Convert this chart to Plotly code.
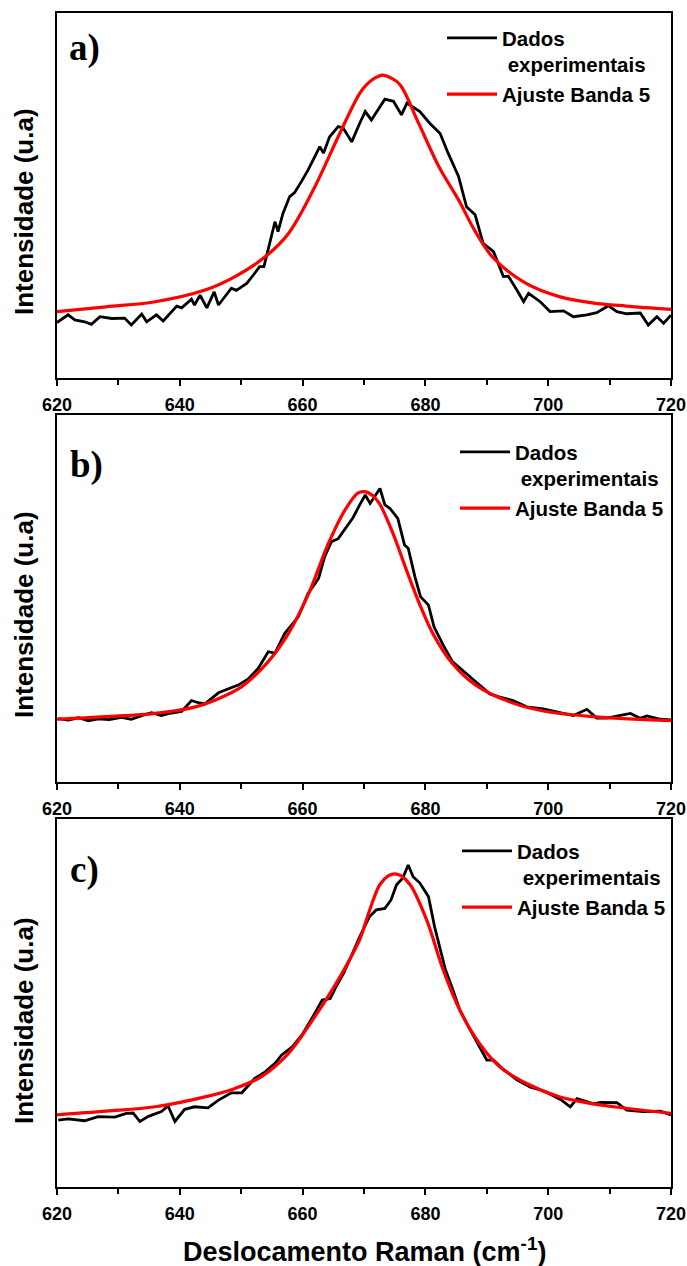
import plotly.graph_objects as go

# ---------------- data ----------------
tick_vals = [620, 640, 660, 680, 700, 720]
panel_labels = ["a)", "b)", "c)"]
name_data = "Dados<br>\u00a0experimentais"
name_fit = "Ajuste Banda 5"

a_data_x = [620.0, 621.8, 622.9, 624.5, 625.6, 627.0, 628.9, 631.0, 632.1, 633.8, 634.6, 636.2, 637.3,
            639.5, 640.3, 641.9, 642.4, 643.3, 644.4, 645.6, 646.3, 648.4, 649.2, 650.9, 652.2, 653.0,
            653.7, 654.4, 655.5, 656.0, 656.8, 657.9, 658.7, 659.8, 660.9, 662.8, 663.4, 664.4, 665.8,
            666.6, 668.0, 669.3, 670.2, 671.2, 673.4, 674.8, 676.1, 677.0, 679.1, 680.7, 682.4, 683.7,
            685.4, 686.7, 688.1, 689.4, 691.1, 692.7, 693.5, 694.9, 696.0, 696.8, 698.7, 700.3, 702.5,
            704.1, 706.3, 707.9, 709.8, 711.2, 712.8, 715.0, 716.3, 717.7, 718.8, 720.0]
a_data_y = [0.152, 0.173, 0.159, 0.154, 0.147, 0.168, 0.163, 0.164, 0.145, 0.175, 0.154, 0.173, 0.156,
            0.197, 0.192, 0.216, 0.200, 0.227, 0.192, 0.236, 0.200, 0.246, 0.240, 0.259, 0.287, 0.305,
            0.305, 0.351, 0.428, 0.401, 0.451, 0.497, 0.508, 0.538, 0.570, 0.634, 0.616, 0.661, 0.689,
            0.685, 0.647, 0.698, 0.730, 0.707, 0.764, 0.758, 0.721, 0.753, 0.730, 0.698, 0.670, 0.616,
            0.552, 0.469, 0.447, 0.369, 0.346, 0.278, 0.279, 0.241, 0.209, 0.232, 0.209, 0.182, 0.184,
            0.168, 0.173, 0.179, 0.198, 0.182, 0.176, 0.178, 0.145, 0.168, 0.150, 0.172]
a_fit_x = [620, 628, 636, 644.1, 649, 653.9, 657.7, 662, 665.8, 669.3, 670.5, 671.8, 673, 674.4, 675.9,
           678.9, 682.2, 685.4, 688, 690.9, 696.4, 701.8, 707.2, 712.7, 720]
a_fit_y = [0.182, 0.195, 0.209, 0.241, 0.278, 0.332, 0.396, 0.524, 0.661, 0.780, 0.805, 0.822, 0.830,
           0.822, 0.803, 0.698, 0.579, 0.488, 0.405, 0.332, 0.259, 0.223, 0.206, 0.197, 0.188]

b_data_x = [620.2, 621.8, 623.5, 625.1, 626.7, 628.5, 630.5, 632.1, 633.8, 635.4, 637.0, 638.6, 640.3,
            641.9, 643.0, 644.1, 646.3, 647.9, 649.5, 651.1, 652.8, 654.4, 655.5, 657.1, 659.3, 660.9,
            662.6, 663.6, 664.7, 665.8, 667.4, 668.2, 669.3, 670.2, 671.0, 672.6, 673.4, 674.2, 675.5,
            676.6, 677.2, 678.3, 679.2, 680.5, 681.4, 682.9, 684.4, 686.2, 688.2, 690.5, 692.0, 694.3,
            696.5, 699.2, 701.9, 704.1, 706.3, 707.9, 709.5, 711.2, 713.4, 715.0, 716.1, 718.3, 720.0]
b_data_y = [0.173, 0.169, 0.175, 0.167, 0.172, 0.170, 0.176, 0.171, 0.181, 0.189, 0.181, 0.188, 0.192,
            0.222, 0.216, 0.213, 0.243, 0.253, 0.264, 0.280, 0.310, 0.355, 0.351, 0.405, 0.450, 0.514,
            0.555, 0.614, 0.655, 0.663, 0.700, 0.720, 0.755, 0.782, 0.759, 0.800, 0.755, 0.746, 0.718,
            0.646, 0.637, 0.559, 0.505, 0.482, 0.423, 0.373, 0.328, 0.301, 0.273, 0.240, 0.232, 0.222,
            0.205, 0.199, 0.189, 0.181, 0.198, 0.174, 0.174, 0.180, 0.187, 0.174, 0.180, 0.171, 0.169]
b_fit_x = [620, 628, 636, 642.4, 645.7, 650.1, 654.4, 657.7, 661, 664.2, 666.9, 669, 670.1, 671.3,
           672.5, 674.7, 676.9, 679, 681.2, 684.4, 688.2, 693.6, 699, 707.2, 720]
b_fit_y = [0.171, 0.178, 0.187, 0.204, 0.223, 0.260, 0.328, 0.405, 0.514, 0.650, 0.741, 0.787, 0.791,
           0.782, 0.759, 0.678, 0.578, 0.487, 0.405, 0.323, 0.264, 0.219, 0.194, 0.178, 0.167]

c_data_x = [620.2, 621.8, 624.5, 626.7, 629.4, 631.3, 632.4, 633.5, 634.9, 637.0, 638.1, 639.2, 640.8,
            642.4, 644.6, 646.3, 648.4, 650.1, 652.2, 653.9, 655.5, 656.6, 658.3, 659.9, 661.5, 663.2,
            664.5, 665.6, 666.7, 668.0, 669.3, 670.9, 672.0, 673.4, 674.4, 675.3, 676.3, 677.2, 678.0,
            679.1, 680.5, 681.5, 683.2, 684.3, 685.6, 687.0, 688.4, 690.0, 691.1, 692.8, 694.9, 697.1,
            699.3, 702.0, 703.6, 704.7, 707.4, 708.5, 711.2, 712.8, 715.5, 718.3, 720.0]
c_data_y = [0.182, 0.185, 0.180, 0.191, 0.190, 0.200, 0.201, 0.178, 0.192, 0.205, 0.220, 0.178, 0.211,
            0.218, 0.215, 0.236, 0.256, 0.256, 0.295, 0.313, 0.336, 0.359, 0.381, 0.413, 0.458, 0.508,
            0.512, 0.549, 0.581, 0.630, 0.680, 0.735, 0.753, 0.757, 0.780, 0.821, 0.839, 0.875, 0.843,
            0.826, 0.789, 0.707, 0.594, 0.544, 0.481, 0.436, 0.395, 0.345, 0.345, 0.318, 0.291, 0.271,
            0.261, 0.238, 0.218, 0.240, 0.226, 0.230, 0.229, 0.209, 0.205, 0.206, 0.196]
c_fit_x = [620, 628, 636, 644.1, 649, 653.3, 657.7, 662, 665.8, 669.3, 670.2, 671.5, 672.6, 674, 675,
           676, 677.5, 680.2, 682.9, 685.6, 688.8, 692.1, 696.4, 701.8, 707.3, 712.7, 720]
c_fit_y = [0.196, 0.206, 0.218, 0.245, 0.268, 0.300, 0.363, 0.463, 0.563, 0.672, 0.716, 0.780, 0.822,
           0.846, 0.851, 0.846, 0.822, 0.726, 0.590, 0.481, 0.390, 0.327, 0.282, 0.245, 0.226, 0.214,
           0.200]

panels = [(a_data_x, a_data_y, a_fit_x, a_fit_y),
          (b_data_x, b_data_y, b_fit_x, b_fit_y),
          (c_data_x, c_data_y, c_fit_x, c_fit_y)]

# ---------------- figure ----------------
W, H = 687, 1266
ML, MR, MT, MB = 57, 16, 13, 79
PH = H - MT - MB
PW = W - ML - MR


def py(p):  # pixel y -> paper y
    return (H - MB - p) / PH


def px(p):  # pixel x -> paper x
    return (p - ML) / PW


panel_px = [(13, 378), (415, 782), (819, 1187)]
label_px = [(84, 48), (86, 465), (84, 870)]
ytitle_px = [212, 615, 1021]
legend_px = [(442, 18), (455, 432), (457, 831)]

FONT = "Liberation Sans, Arial, sans-serif"
fig = go.Figure()
layout = dict(width=W, height=H, margin=dict(l=ML, r=MR, t=MT, b=MB, autoexpand=False),
              plot_bgcolor="white", paper_bgcolor="white", showlegend=True,
              font=dict(family=FONT, color="black"))
annotations = []
for i, (dx, dy, fx, fy) in enumerate(panels):
    n = "" if i == 0 else str(i + 1)
    lg = "legend" if i == 0 else "legend" + str(i + 1)
    fig.add_trace(go.Scatter(x=dx, y=dy, mode="lines", name=name_data,
                             line=dict(color="black", width=2.8), xaxis="x" + n, yaxis="y" + n,
                             legend=lg))
    fig.add_trace(go.Scatter(x=fx, y=fy, mode="lines", name=name_fit,
                             line=dict(color="#ff0000", width=3.2, shape="spline"),
                             xaxis="x" + n, yaxis="y" + n, legend=lg))
    top, bot = panel_px[i]
    layout["xaxis" + n] = dict(domain=[0, 1], anchor="y" + n, range=[620, 720], automargin=False,
                               showline=True, mirror=True, linecolor="black", linewidth=2,
                               ticks="outside", ticklen=6, tickwidth=2, tickcolor="black",
                               tickmode="array", tickvals=tick_vals,
                               ticktext=[str(v) for v in tick_vals], ticklabelstandoff=3,
                               minor=dict(dtick=10, tick0=620, ticks="outside", ticklen=5,
                                          tickwidth=2, tickcolor="black"),
                               tickfont=dict(size=18, family=FONT, weight="bold", color="black"),
                               showgrid=False, zeroline=False, fixedrange=True)
    layout["yaxis" + n] = dict(domain=[py(bot), py(top)], anchor="x" + n, range=[0, 1],
                               automargin=False,
                               showline=True, mirror=True, linecolor="black", linewidth=2,
                               ticks="", showticklabels=False, showgrid=False, zeroline=False)
    lx, ly = legend_px[i]
    layout[lg] = dict(x=px(lx), y=py(ly), xanchor="left", yanchor="top",
                      bgcolor="rgba(0,0,0,0)", borderwidth=0, valign="top",
                      itemwidth=50,
                      font=dict(size=20.5, family=FONT, weight="bold", color="black"),
                      tracegroupgap=0)
    annotations.append(dict(text="Intensidade (u.a)", xref="paper", yref="paper",
                            x=px(24), y=py(ytitle_px[i]), textangle=-90, showarrow=False,
                            xanchor="center", yanchor="middle",
                            font=dict(size=26, family=FONT, weight="bold", color="black")))
    lbx, lby = label_px[i]
    annotations.append(dict(text=panel_labels[i], xref="paper", yref="paper",
                            x=px(lbx), y=py(lby), showarrow=False,
                            xanchor="center", yanchor="middle",
                            font=dict(size=37, family="Liberation Serif, Times New Roman, serif",
                                      weight="bold", color="black")))

annotations.append(dict(text="Deslocamento Raman (cm<sup>-1</sup>)", xref="paper", yref="paper",
                        x=px(364), y=py(1250), showarrow=False, xanchor="center",
                        yanchor="middle",
                        font=dict(size=27, family=FONT, weight="bold", color="black")))
layout["annotations"] = annotations
fig.update_layout(**layout)
fig.write_html("out.html")
